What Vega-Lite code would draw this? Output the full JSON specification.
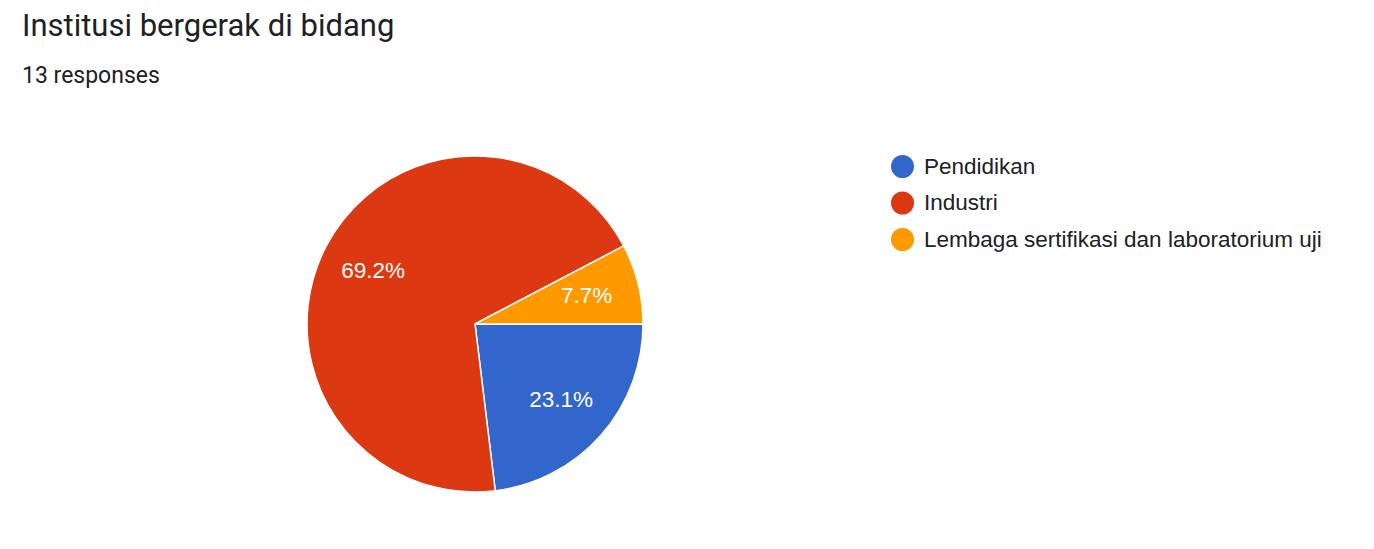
{
  "$schema": "https://vega.github.io/schema/vega-lite/v6.json",
  "autosize": {"type": "none"},
  "padding": {"left": 307, "top": 156, "right": 731, "bottom": 57},
  "width": 336,
  "height": 336,
  "background": "#ffffff",
  "title": {
    "text": "Institusi bergerak di bidang",
    "subtitle": "13 responses",
    "anchor": "start",
    "frame": "group",
    "dx": -285,
    "offset": 64,
    "font": "Roboto",
    "fontSize": 31,
    "fontWeight": "normal",
    "color": "#202124",
    "subtitleFont": "Roboto",
    "subtitleFontSize": 23,
    "subtitleColor": "#202124",
    "subtitlePadding": 22
  },
  "data": {
    "values": [
      {"category": "Pendidikan", "count": 3, "label": "23.1%", "idx": 1},
      {"category": "Industri", "count": 9, "label": "69.2%", "idx": 2},
      {"category": "Lembaga sertifikasi dan laboratorium uji", "count": 1, "label": "7.7%", "idx": 3}
    ]
  },
  "encoding": {
    "theta": {
      "field": "count",
      "type": "quantitative",
      "stack": true,
      "scale": {"range": [1.5707963, 7.8539816]}
    },
    "order": {"field": "idx", "type": "quantitative"}
  },
  "layer": [
    {
      "mark": {"type": "arc", "outerRadius": 168, "stroke": "#ffffff", "strokeWidth": 1.5},
      "encoding": {
        "color": {
          "field": "category",
          "type": "nominal",
          "sort": ["Pendidikan", "Industri", "Lembaga sertifikasi dan laboratorium uji"],
          "scale": {
            "domain": ["Pendidikan", "Industri", "Lembaga sertifikasi dan laboratorium uji"],
            "range": ["#3366cc", "#dc3912", "#ff9900"]
          },
          "legend": {
            "orient": "none",
            "legendX": 584,
            "legendY": -1,
            "title": null,
            "padding": 0,
            "symbolType": "circle",
            "symbolSize": 529,
            "symbolStrokeWidth": 0,
            "labelFont": "Liberation Sans",
            "labelFontSize": 22.5,
            "labelColor": "#202124",
            "labelOffset": 10,
            "labelLimit": 600,
            "rowPadding": 13.5
          }
        }
      }
    },
    {
      "mark": {"type": "text", "radius": 115, "font": "Liberation Sans", "fontSize": 22.5, "color": "#ffffff", "baseline": "middle", "align": "center"},
      "encoding": {
        "text": {"field": "label", "type": "nominal"}
      }
    }
  ]
}
